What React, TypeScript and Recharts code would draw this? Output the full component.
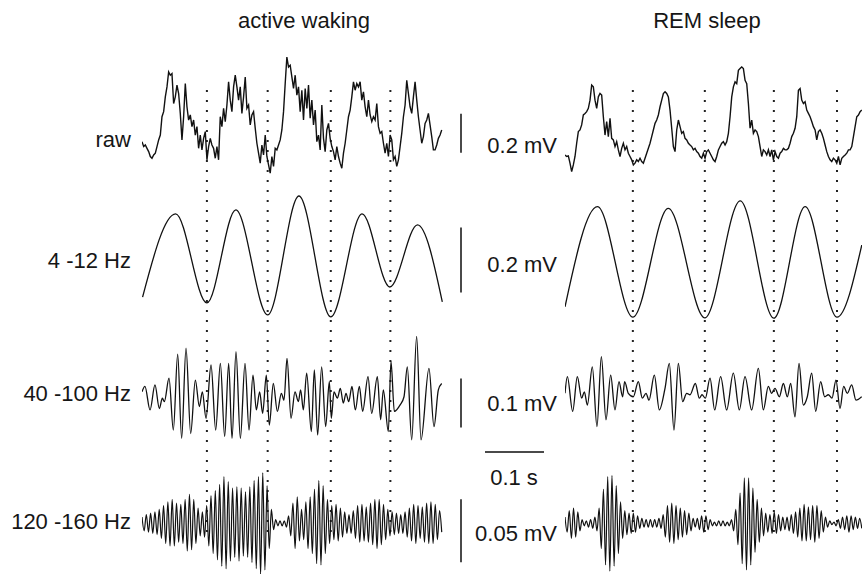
import { Line, LineChart, ReferenceLine, XAxis, YAxis } from "recharts";

// ---- labels ----
const panelTitles = ["active waking", "REM sleep"];
const rowLabels = ["raw", "4 -12 Hz", "40 -100 Hz", "120 -160 Hz"];
const scaleLabels = ["0.2 mV", "0.2 mV", "0.1 mV", "0.05 mV"];
const scaleBarsUv = [200, 200, 100, 50];
const timeBarMs = 100;
const timeBarLabel = "0.1 s";

// ---- raw LFP, µV, evenly sampled ----
const rawWakeUv = [
  -43, -68, -60, -77, -94, -119, -128, -111, -102, -68,
  -34, -9, 85, 111, 187, 238, 315, 298, 306, 153,
  187, 247, 204, 102, -34, 85, 255, 136, 68, 94,
  34, 68, -9, 34, -77, -9, -85, -26, 9, -136,
  -68, -26, -60, -77, -128, -68, -136, 85, 34, 128,
  60, 145, 264, 170, 111, 238, 298, 238, 170, 238,
  102, 187, 289, 128, 145, 43, 94, 111, 26, -51,
  -102, -153, -60, -111, -9, -119, -162, -204, -119, -170,
  -77, -85, -60, -34, 17, 111, 255, 391, 340, 349,
  289, 230, 298, 196, 238, 111, 221, 68, 230, 128,
  247, 77, 170, 43, 119, -43, -9, -85, 145, -26,
  -94, 17, 51, -26, -68, -94, -136, -68, -119, -153,
  -179, -102, -51, 17, 85, 119, 187, 264, 221, 255,
  238, 264, 170, 213, 136, 85, 170, 94, 60, 85,
  68, 153, 34, 0, 9, -51, -102, -51, -119, -9,
  -34, -136, -119, -170, -136, -68, 0, 85, 145, 272,
  204, 136, 102, 187, 264, 170, 85, 17, -51, -17,
  51, 68, 102, 43, -17, -85, -85, -60, -26, -9,
  17,
];
const rawRemUv = [
  -111, -119, -116, -153, -196, -162, -119, -51, 9, 17,
  43, 94, 102, 111, 128, 170, 247, 238, 170, 128,
  187, 204, 196, 85, -9, 60, -17, 77, -26, -34,
  -68, -43, -85, -119, -77, -51, -85, -68, -102, -119,
  -136, -162, -153, -136, -145, -128, -145, -153, -128, -102,
  -77, -51, -17, 17, 51, 68, 94, 136, 170, 204,
  213, 204, 187, 119, 26, -68, -94, 17, 68, 34,
  0, 9, -26, -34, -51, -60, -68, -85, -77, -94,
  -102, -119, -128, -102, -128, -94, -85, -102, -119, -136,
  -145, -119, -85, -68, -51, -43, -60, -43, 0, 85,
  187, 238, 264, 255, 323, 332, 340, 332, 272, 255,
  153, 26, 68, 0, 17, 9, -17, -68, -119, -85,
  -94, -111, -85, -119, -85, -136, -94, -119, -128, -102,
  -94, -77, -85, -85, -77, -51, -17, 0, 26, 85,
  221, 230, 170, 153, 162, 119, 102, 85, 60, 34,
  17, -34, 9, 17, 0, -26, -60, -94, -119, -136,
  -145, -128, -136, -153, -119, -162, -128, -119, -111, -102,
  -85, -85, -68, -17, 34, 85, 94, 111, 119,
];

// ---- 4-12 Hz: turning points (ms, µV) ----
const thetaWakeMs = [1, 57, 110, 159, 213, 266, 320, 373, 420, 467, 509];
const thetaWakeUv = [-114, 142, -132, 154, -169, 197, -175, 142, -83, 108, -129];
const thetaRemMs = [0, 55, 115, 175, 237, 297, 354, 407, 461, 503];
const thetaRemUv = [-144, 164, -176, 159, -178, 182, -179, 164, -176, 46];

// theta troughs marked by the dotted lines
const troughsWakeMs = [110, 213, 320, 421];
const troughsRemMs = [115, 237, 354, 461];

// ---- 40-100 Hz: turning points (ms, µV) ----
const gammaWakeMs = [
  0, 5, 13.6, 22, 29.4, 34.5, 37.9, 45.8, 53.1, 60.5, 67.2, 74.6, 82.5, 90.4, 97.2,
  102.3, 108.5, 117, 124.9, 132.8, 140.1, 146.9, 152.6, 159.3, 166.7, 174.6, 181.4,
  188.1, 193.8, 199.4, 204.5, 210.7, 215.8, 222.6, 229.4, 236.2, 240.7, 245.8, 252.6,
  259.3, 265, 268.9, 273.5, 279.1, 287, 292.1, 297.7, 304.5, 311.3, 317.5, 320.9,
  325.4, 331.1, 336.2, 341.2, 345.8, 350.3, 355.9, 361.6, 368.4, 374, 383.1, 389.3,
  398.9, 404.5, 409, 417.5, 422, 427.7, 437.3, 444.1, 449.7, 457.1, 465.5, 472.9,
  486.4, 494.9, 502.3, 508,
];
const gammaWakeUv = [
  3, 14, -34, 17, -31, -10, -17, 31, -75, 80, -92, 92, -82, 27, -27,
  3, -51, 58, -75, 61, -88, 61, -92, 85, -92, 61, -75,
  37, -34, 3, -41, 37, -65, 20, -37, 0, -14, 71, -51,
  3, -17, 7, -34, 41, -78, 48, -85, 54, -68, 24, -51,
  3, -10, 10, -20, 0, -17, 14, -34, 14, -37, 34, -41,
  34, -54, 7, -78, 65, -37, -24, -7, 54, -95, 116, -95,
  51, -68, 7, 20,
];
const gammaRemMs = [
  0, 4, 13, 20.9, 28.2, 32.8, 37.9, 46.3, 54.2, 61.6, 69.5, 77.4, 84.7, 91.5, 97.7,
  101.1, 107.3, 115.8, 124.3, 131.1, 137.3, 142.4, 151.4, 159.9, 169.5, 176.8, 184.7,
  192.1, 199.4, 206.2, 211.9, 220.9, 227.7, 232.2, 237.9, 245.8, 253.7, 263.8, 274,
  285.3, 295.5, 305.1, 316.4, 327.7, 336.2, 344.6, 350.3, 355.9, 363.3, 370.1, 376.8,
  382.5, 389.8, 396.6, 403.9, 410.7, 418.1, 424.9, 433.3, 440.1, 446.3, 452.5, 459.3,
  466.1, 472.3, 478.5, 485.9, 493.2, 502.8,
];
const gammaRemUv = [
  0, 34, -37, 34, -10, 3, -24, 54, -68, 75, -54, 37, -34, 24, -7,
  24, 0, -7, 24, -10, 0, -14, 37, -34, 10, 61, -75,
  61, -17, 0, -3, 20, -10, -3, -10, 31, -34, 34, -34,
  41, -34, 34, -34, 51, -34, 14, 0, 10, -7, 20, -7,
  20, -48, 61, -24, -7, 41, -37, 24, -7, -3, -10, 27,
  -31, 14, 0, 17, -14, -7,
];

// ---- 120-160 Hz: successive peaks and troughs, µV ----
const fastWakeUv = [
  5, -6, 7, -7, 8, -8, 9, -9, 11, -12,
  14, -16, 17, -18, 19, -18, 16, -15,
  15, -16, 19, -22, 23, -21, 19, -16,
  12, -10, 9, -11, 14,
  -18, 22, -24, 26, -29, 31, -34, 37, -36, 33, -30,
  28, -27, 29, -30, 28, -26, 25, -27,
  29, -31, 34, -36, 37, -41, 40, -37, 30,
  -20, 11, -5, 3, -2, 2, -2, 2, -3,
  6, -10, 16, -20, 21, -14, 11, -13, 17,
  -20, 21, -24, 27, -32, 34, -33, 30, -24, 19, -16,
  14, -13, 15, -14, 12, -11, 9, -8,
  7, -8, 10, -12, 14, -15, 15, -14,
  13, -15, 16, -17, 19, -20, 19, -17, 15,
  -13, 11, -10, 9, -9, 8,
  -8, 7, -8, 9, -11, 12,
  -14, 15, -16, 14, -12, 13, -15, 16, -16,
  17, -16, 15, -13, 10, -7,
];
const fastRemUv = [
  5, -7, 10, -12, 12, -11, 9, -6,
  3, -2, 2, -3, 3, -4, 5, -6,
  12, -20, 27, -33, 37, -38, 38, -34, 30, -24, 17,
  -12, 10, -9, 8, -8, 8, -7, 6,
  -4, 4, -3, 3, -3, 3, -3, 3, -3, 4, -4,
  7, -11, 14, -15, 16, -16, 14, -13, 12, -11, 10, -9, 8,
  -6, 4, -3, 4, -5, 6, -7, 6, -5, 3, -2,
  1, -2, 2, -2, 2, -2, 1, -2, 3,
  -6, 11, -17, 24, -32, 36, -37, 36, -33, 28, -23, 19, -15,
  12, -10, 8, -7, 7, -8, 9, -8, 7, -6, 5, -5, 5,
  -6, 7, -8, 9, -11, 12, -14, 15, -14, 13, -13, 14, -15, 14, -12, 10,
  -7, 5, -3, 2, -1, 1, -2, 3,
  -4, 5, -5, 6, -7, 6, -5, 5, -4, 4, -4,
];

// recording spans shown (ms)
const wakeSpanMs = 508;
const remSpanMs = 503;

// ---- layout ----
const PX_PER_MS = 0.59;
const FONT = '"Liberation Sans", Arial, sans-serif';
const INK = "#111";
const BAR = "#4a4a4a";

const panels = [
  { left: 142, width: 418 },
  { left: 565, width: 297 },
];

// each row: pixel band, pixel of 0 µV, px per µV, where the scale bar starts
const rows = [
  { top: 45, bottom: 185, y0: 133.3, k: 0.195, barFrom: -100 },
  { top: 185, bottom: 330, y0: 260, k: 0.325, barFrom: -100 },
  { top: 330, bottom: 460, y0: 393.3, k: 0.49, barFrom: -70 },
  { top: 460, bottom: 574, y0: 523.3, k: 1.26, barFrom: -31 },
];

const scaleBarX = 461;
const timeBarX = 485;
const timeBarY = 452;

const sampled = (vals: number[], span: number) =>
  vals.map((v, i) => ({ t: (i * span) / (vals.length - 1), v }));
const paired = (ts: number[], vs: number[]) => ts.map((t, i) => ({ t, v: vs[i] }));

const traces = [
  [sampled(rawWakeUv, wakeSpanMs), sampled(rawRemUv, remSpanMs)],
  [paired(thetaWakeMs, thetaWakeUv), paired(thetaRemMs, thetaRemUv)],
  [paired(gammaWakeMs, gammaWakeUv), paired(gammaRemMs, gammaRemUv)],
  [sampled(fastWakeUv, wakeSpanMs), sampled(fastRemUv, remSpanMs)],
];
const curves = ["linear", "monotone", "monotone", "monotone"] as const;
const widths = [1.4, 1.3, 1.3, 1.2];

type Row = (typeof rows)[number];

function Trace({ p, r, ri, data }: { p: number; r: Row; ri: number; data: { t: number; v: number }[] }) {
  const panel = panels[p];
  const h = r.bottom - r.top;
  const yDomain = [-(r.bottom - r.y0) / r.k, (r.y0 - r.top) / r.k];
  const xDomain = [0, panel.width / PX_PER_MS];
  const barT = (scaleBarX - panel.left) / PX_PER_MS;
  const tbT = (timeBarX - panel.left) / PX_PER_MS;
  const tbV = (r.y0 - timeBarY) / r.k;
  return (
    <div style={{ position: "absolute", left: panel.left, top: r.top }}>
      <LineChart width={panel.width} height={h} data={data} margin={{ top: 0, right: 0, bottom: 0, left: 0 }}>
        <XAxis type="number" dataKey="t" domain={xDomain} hide allowDataOverflow />
        <YAxis type="number" domain={yDomain} hide allowDataOverflow width={0} />
        <Line
          type={curves[ri]}
          dataKey="v"
          stroke={INK}
          strokeWidth={widths[ri]}
          dot={false}
          isAnimationActive={false}
        />
        {p === 0 && (
          <ReferenceLine
            segment={[
              { x: barT, y: r.barFrom },
              { x: barT, y: r.barFrom + scaleBarsUv[ri] },
            ]}
            stroke={BAR}
            strokeWidth={2}
          />
        )}
        {p === 0 && ri === 2 && (
          <ReferenceLine
            segment={[
              { x: tbT, y: tbV },
              { x: tbT + timeBarMs, y: tbV },
            ]}
            stroke={BAR}
            strokeWidth={2}
          />
        )}
      </LineChart>
    </div>
  );
}

function Dots({ p, troughs }: { p: number; troughs: number[] }) {
  const panel = panels[p];
  const top = 85;
  const bottom = 532;
  const data = troughs.map((t) => ({ t, v: 0.5 }));
  return (
    <div style={{ position: "absolute", left: panel.left, top }}>
      <LineChart width={panel.width} height={bottom - top} data={data} margin={{ top: 0, right: 0, bottom: 0, left: 0 }}>
        <XAxis type="number" dataKey="t" domain={[0, panel.width / PX_PER_MS]} hide />
        <YAxis type="number" domain={[0, 1]} hide width={0} />
        <Line dataKey="v" stroke="none" dot={false} isAnimationActive={false} />
        {troughs.map((t) => (
          <ReferenceLine key={t} x={t} stroke="#222" strokeWidth={2} strokeDasharray="2 8" />
        ))}
      </LineChart>
    </div>
  );
}

const rowLabelY = [147, 268, 401, 529];
const scaleLabelY = [153, 272, 411, 541];

export default function App() {
  return (
    <div style={{ position: "absolute", left: 0, top: 0, width: 862, height: 574, background: "#fff", overflow: "hidden" }}>
      <Dots p={0} troughs={troughsWakeMs} />
      <Dots p={1} troughs={troughsRemMs} />
      {rows.map((r, ri) =>
        [0, 1].map((p) => <Trace key={`${ri}-${p}`} p={p} r={r} ri={ri} data={traces[ri][p]} />)
      )}
      <svg width={862} height={574} style={{ position: "absolute", left: 0, top: 0, pointerEvents: "none" }}>
        <g fontFamily={FONT} fontSize={22} fill="#161616">
          <text x={304} y={28} textAnchor="middle">{panelTitles[0]}</text>
          <text x={707} y={28} textAnchor="middle">{panelTitles[1]}</text>
          {rowLabels.map((s, i) => (
            <text key={s} x={131} y={rowLabelY[i]} textAnchor="end">{s}</text>
          ))}
          {scaleLabels.map((s, i) => (
            <text key={i} x={557} y={scaleLabelY[i]} textAnchor="end">{s}</text>
          ))}
          <text x={514} y={485} textAnchor="middle">{timeBarLabel}</text>
        </g>
      </svg>
    </div>
  );
}
